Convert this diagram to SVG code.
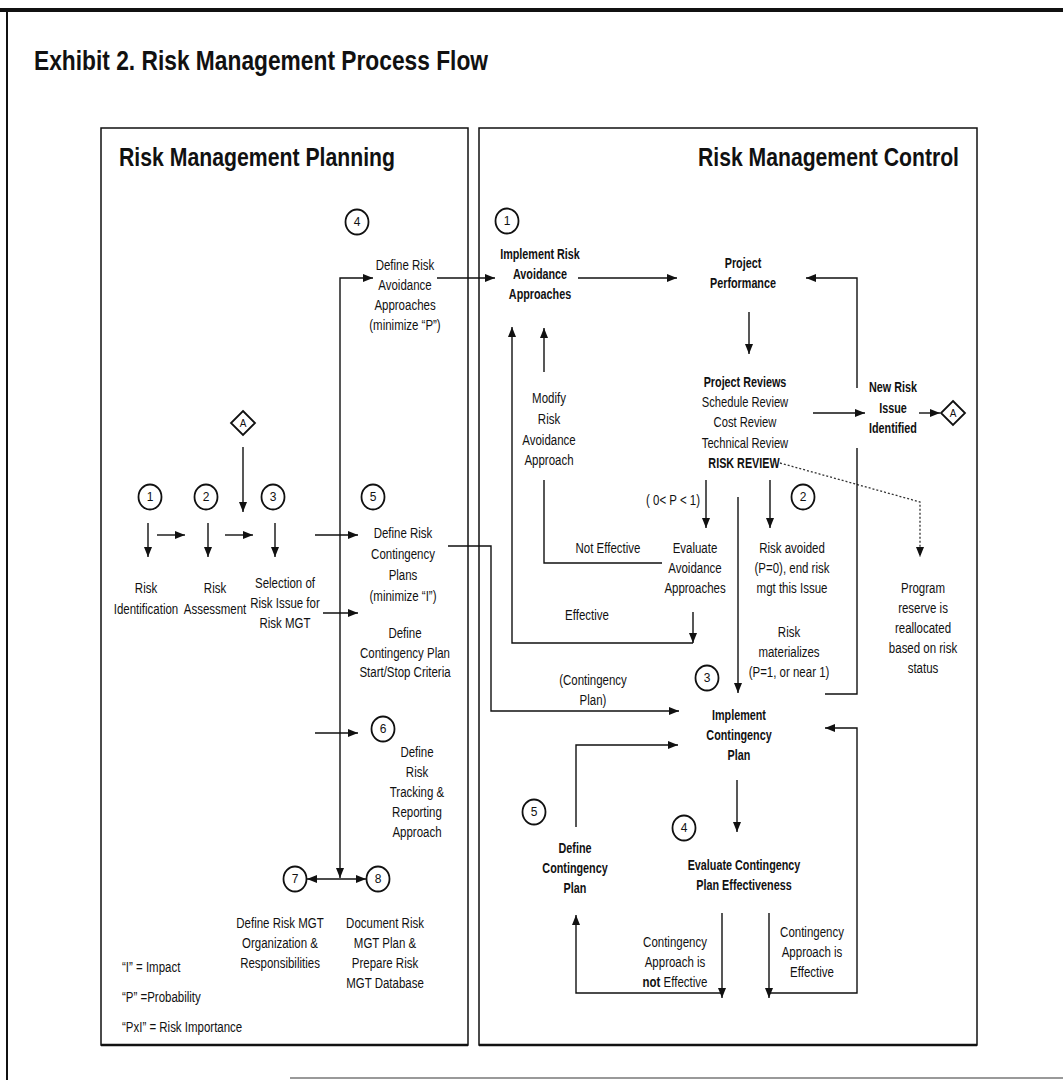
<svg xmlns="http://www.w3.org/2000/svg" width="1063" height="1080" viewBox="0 0 1063 1080">
<style>
text{font-family:"Liberation Sans",Arial,sans-serif;font-size:14px;fill:#111;text-anchor:middle}
.b{font-weight:bold}
.bb{font-weight:bold;font-size:15px}
.st{text-anchor:start}
.num{font-size:12px}
.ln{fill:none;stroke:#111;stroke-width:1.4}
.arr{marker-end:url(#ah)}
.frm{fill:none;stroke:#111;stroke-width:1.5}
.c{fill:#fff;stroke:#111;stroke-width:1.8}
.dot{fill:none;stroke:#333;stroke-width:1.3;stroke-dasharray:2 2}
</style>
<defs>
<marker id="ah" viewBox="0 0 10 8" refX="10" refY="4" markerWidth="10" markerHeight="8" markerUnits="userSpaceOnUse" orient="auto-start-reverse"><path d="M0,0 L10,4 L0,8 z" fill="#111"/></marker>
</defs>
<rect width="1063" height="1080" fill="#fff"/>
<g id="frame">
<line x1="0" y1="10" x2="1063" y2="10" stroke="#111" stroke-width="4"/>
<line x1="7" y1="10" x2="7" y2="1080" stroke="#111" stroke-width="2"/>
<line x1="290" y1="1078" x2="1063" y2="1078" stroke="#999" stroke-width="2"/>
<text class="b st" x="34" y="70" style="font-size:28px" textLength="454" lengthAdjust="spacingAndGlyphs">Exhibit 2.  Risk Management Process Flow</text>
</g>
<g id="panel-planning">
<rect class="frm" x="101" y="128" width="367" height="917"/>
<line x1="101" y1="1045" x2="468" y2="1045" stroke="#111" stroke-width="2.5"/>
<text class="b st" x="119" y="166" style="font-size:25px" textLength="276" lengthAdjust="spacingAndGlyphs">Risk Management Planning</text>
</g>
<g id="panel-control">
<rect class="frm" x="479" y="128" width="498" height="917"/>
<line x1="479" y1="1045" x2="977" y2="1045" stroke="#111" stroke-width="2.5"/>
<text class="b st" x="698" y="166" style="font-size:25px" textLength="261" lengthAdjust="spacingAndGlyphs">Risk Management Control</text>
</g>
<g id="connectors">
<line class="ln arr" x1="148" y1="523" x2="148" y2="557"/>
<line class="ln arr" x1="208" y1="523" x2="208" y2="557"/>
<line class="ln arr" x1="275" y1="523" x2="275" y2="557"/>
<line class="ln arr" x1="157" y1="535" x2="185" y2="535"/>
<line class="ln arr" x1="225" y1="535" x2="253" y2="535"/>
<line class="ln arr" x1="315" y1="535" x2="358" y2="535"/>
<line class="ln arr" x1="323" y1="613" x2="358" y2="613"/>
<line class="ln arr" x1="315" y1="733" x2="358" y2="733"/>
<line class="ln arr" x1="243" y1="447" x2="243" y2="512"/>
<path class="ln" d="M373,278 L340,278 L340,878" style="marker-start:url(#ah);marker-end:url(#ah)"/>
<line class="ln" x1="307" y1="879" x2="366" y2="879" style="marker-start:url(#ah);marker-end:url(#ah)"/>
<line class="ln arr" x1="437" y1="278" x2="495" y2="278"/>
<path class="ln arr" d="M448,546 L491,546 L491,711 L679,711"/>
<line class="ln arr" x1="578" y1="278" x2="677" y2="278"/>
<line class="ln arr" x1="749" y1="312" x2="749" y2="354"/>
<path class="ln arr" d="M857,388 L857,278 L806,278"/>
<line class="ln arr" x1="813" y1="413" x2="865" y2="413"/>
<line class="ln arr" x1="919" y1="413" x2="940" y2="413"/>
<path class="dot arr" d="M780,463 L920,502 L920,557"/>
<line class="ln arr" x1="706" y1="480" x2="706" y2="528"/>
<line class="ln arr" x1="770" y1="480" x2="770" y2="528"/>
<path class="ln" d="M662,563 L544,563 L544,480"/>
<line class="ln arr" x1="544" y1="372" x2="544" y2="328"/>
<line class="ln arr" x1="693" y1="612" x2="693" y2="643"/>
<path class="ln arr" d="M693,643 L512,643 L512,327"/>
<line class="ln arr" x1="738" y1="497" x2="738" y2="693"/>
<path class="ln" d="M825,694 L857,694 L857,448"/>
<path class="ln arr" d="M769,993 L857,993 L857,728 L825,728"/>
<line class="ln arr" x1="769" y1="913" x2="769" y2="998"/>
<line class="ln arr" x1="737" y1="780" x2="737" y2="832"/>
<path class="ln arr" d="M576,827 L576,745 L678,745"/>
<line class="ln arr" x1="722" y1="913" x2="722" y2="998"/>
<path class="ln arr" d="M722,993 L576,993 L576,915"/>
</g>
<g id="connector-labels">
<g transform="translate(673,505) scale(0.82,1)"><text>( 0&lt; P &lt; 1)</text></g>
<g transform="translate(608,553) scale(0.82,1)"><text>Not Effective</text></g>
<g transform="translate(587,620) scale(0.82,1)"><text>Effective</text></g>
<g transform="translate(789,637) scale(0.82,1)"><text><tspan x="0" y="0">Risk</tspan><tspan x="0" y="20">materializes</tspan><tspan x="0" y="40">(P=1, or near 1)</tspan></text></g>
<g transform="translate(593,685) scale(0.82,1)"><text><tspan x="0" y="0">(Contingency</tspan><tspan x="0" y="20">Plan)</tspan></text></g>
<g transform="translate(675,947) scale(0.82,1)"><text><tspan x="0" y="0">Contingency</tspan><tspan x="0" y="20">Approach is</tspan><tspan x="0" y="40"><tspan class="b">not</tspan> Effective</tspan></text></g>
<g transform="translate(812,937) scale(0.82,1)"><text><tspan x="0" y="0">Contingency</tspan><tspan x="0" y="20">Approach is</tspan><tspan x="0" y="40">Effective</tspan></text></g>
</g>
<g id="step-p1">
<ellipse class="c" cx="150" cy="497" rx="11.5" ry="12.5"/><text class="num" x="150" y="501">1</text>
<g transform="translate(146,593) scale(0.82,1)"><text><tspan x="0" y="0">Risk</tspan><tspan x="0" y="21">Identification</tspan></text></g>
</g>
<g id="step-p2">
<ellipse class="c" cx="206" cy="497" rx="11.5" ry="12.5"/><text class="num" x="206" y="501">2</text>
<g transform="translate(215,593) scale(0.82,1)"><text><tspan x="0" y="0">Risk</tspan><tspan x="0" y="21">Assessment</tspan></text></g>
</g>
<g id="step-p3">
<ellipse class="c" cx="273" cy="497" rx="11.5" ry="12.5"/><text class="num" x="273" y="501">3</text>
<g transform="translate(285,588) scale(0.82,1)"><text><tspan x="0" y="0">Selection of</tspan><tspan x="0" y="20">Risk Issue for</tspan><tspan x="0" y="40">Risk MGT</tspan></text></g>
</g>
<g id="step-p4">
<ellipse class="c" cx="357" cy="222" rx="11.5" ry="12.5"/><text class="num" x="357" y="226">4</text>
<g transform="translate(405,270) scale(0.82,1)"><text><tspan x="0" y="0">Define Risk</tspan><tspan x="0" y="20">Avoidance</tspan><tspan x="0" y="40">Approaches</tspan><tspan x="0" y="60">(minimize “P”)</tspan></text></g>
</g>
<g id="step-p5">
<ellipse class="c" cx="373" cy="497" rx="11.5" ry="12.5"/><text class="num" x="373" y="501">5</text>
<g transform="translate(403,538) scale(0.82,1)"><text><tspan x="0" y="0">Define Risk</tspan><tspan x="0" y="21">Contingency</tspan><tspan x="0" y="42">Plans</tspan><tspan x="0" y="63">(minimize “I”)</tspan></text></g>
<g transform="translate(405,638) scale(0.82,1)"><text><tspan x="0" y="0">Define</tspan><tspan x="0" y="20">Contingency Plan</tspan><tspan x="0" y="39">Start/Stop Criteria</tspan></text></g>
</g>
<g id="step-p6">
<ellipse class="c" cx="383" cy="729" rx="11.5" ry="12.5"/><text class="num" x="383" y="733">6</text>
<g transform="translate(417,757) scale(0.82,1)"><text><tspan x="0" y="0">Define</tspan><tspan x="0" y="20">Risk</tspan><tspan x="0" y="40">Tracking &amp;</tspan><tspan x="0" y="60">Reporting</tspan><tspan x="0" y="80">Approach</tspan></text></g>
</g>
<g id="step-p7">
<ellipse class="c" cx="295" cy="879" rx="11.5" ry="12.5"/><text class="num" x="295" y="883">7</text>
<g transform="translate(280,928) scale(0.82,1)"><text><tspan x="0" y="0">Define Risk MGT</tspan><tspan x="0" y="20">Organization &amp;</tspan><tspan x="0" y="40">Responsibilities</tspan></text></g>
</g>
<g id="step-p8">
<ellipse class="c" cx="378" cy="879" rx="11.5" ry="12.5"/><text class="num" x="378" y="883">8</text>
<g transform="translate(385,928) scale(0.82,1)"><text><tspan x="0" y="0">Document Risk</tspan><tspan x="0" y="20">MGT Plan &amp;</tspan><tspan x="0" y="40">Prepare Risk</tspan><tspan x="0" y="60">MGT Database</tspan></text></g>
</g>
<g id="connector-a-in">
<path class="c" d="M243,411 L255,423 L243,435 L231,423 Z"/><text x="243" y="427" style="font-size:10px">A</text>
</g>
<g id="legend">
<g transform="translate(122,972) scale(0.82,1)"><text class="st"><tspan x="0" y="0">“I” = Impact</tspan><tspan x="0" y="30">“P” =Probability</tspan><tspan x="0" y="60">“PxI” = Risk Importance</tspan></text></g>
</g>
<g id="step-c1">
<ellipse class="c" cx="507" cy="221" rx="11.5" ry="12.5"/><text class="num" x="507" y="225">1</text>
<g transform="translate(540,259) scale(0.72,1)"><text class="bb"><tspan x="0" y="0">Implement Risk</tspan><tspan x="0" y="20">Avoidance</tspan><tspan x="0" y="40">Approaches</tspan></text></g>
</g>
<g id="project-performance">
<g transform="translate(743,268) scale(0.72,1)"><text class="bb"><tspan x="0" y="0">Project</tspan><tspan x="0" y="20">Performance</tspan></text></g>
</g>
<g id="project-reviews">
<g transform="translate(745,387) scale(0.72,1)"><text class="bb">Project Reviews</text></g>
<g transform="translate(745,407) scale(0.8,1)"><text><tspan x="0" y="0">Schedule Review</tspan><tspan x="0" y="20">Cost Review</tspan><tspan x="0" y="41">Technical Review</tspan></text></g>
<g transform="translate(744,468) scale(0.72,1)"><text class="bb">RISK REVIEW</text></g>
</g>
<g id="new-risk">
<g transform="translate(893,392) scale(0.72,1)"><text class="bb"><tspan x="0" y="0">New Risk</tspan><tspan x="0" y="21">Issue</tspan><tspan x="0" y="41">Identified</tspan></text></g>
</g>
<g id="connector-a-out">
<path class="c" d="M953,401 L965,413 L953,425 L941,413 Z"/><text x="953" y="417" style="font-size:10px">A</text>
</g>
<g id="modify-avoidance">
<g transform="translate(549,403) scale(0.82,1)"><text><tspan x="0" y="0">Modify</tspan><tspan x="0" y="21">Risk</tspan><tspan x="0" y="42">Avoidance</tspan><tspan x="0" y="62">Approach</tspan></text></g>
</g>
<g id="evaluate-avoidance">
<g transform="translate(695,553) scale(0.82,1)"><text><tspan x="0" y="0">Evaluate</tspan><tspan x="0" y="20">Avoidance</tspan><tspan x="0" y="40">Approaches</tspan></text></g>
</g>
<g id="step-c2">
<ellipse class="c" cx="803" cy="497" rx="11.5" ry="12.5"/><text class="num" x="803" y="501">2</text>
<g transform="translate(792,553) scale(0.82,1)"><text><tspan x="0" y="0">Risk avoided</tspan><tspan x="0" y="20">(P=0), end risk</tspan><tspan x="0" y="40">mgt this Issue</tspan></text></g>
</g>
<g id="program-reserve">
<g transform="translate(923,593) scale(0.82,1)"><text><tspan x="0" y="0">Program</tspan><tspan x="0" y="20">reserve is</tspan><tspan x="0" y="40">reallocated</tspan><tspan x="0" y="60">based on risk</tspan><tspan x="0" y="80">status</tspan></text></g>
</g>
<g id="step-c3">
<ellipse class="c" cx="707" cy="678" rx="11.5" ry="12.5"/><text class="num" x="707" y="682">3</text>
<g transform="translate(739,720) scale(0.72,1)"><text class="bb"><tspan x="0" y="0">Implement</tspan><tspan x="0" y="20">Contingency</tspan><tspan x="0" y="40">Plan</tspan></text></g>
</g>
<g id="step-c4">
<ellipse class="c" cx="684" cy="828" rx="11.5" ry="12.5"/><text class="num" x="684" y="832">4</text>
<g transform="translate(744,870) scale(0.72,1)"><text class="bb"><tspan x="0" y="0">Evaluate Contingency</tspan><tspan x="0" y="20">Plan Effectiveness</tspan></text></g>
</g>
<g id="step-c5">
<ellipse class="c" cx="534" cy="812" rx="11.5" ry="12.5"/><text class="num" x="534" y="816">5</text>
<g transform="translate(575,853) scale(0.72,1)"><text class="bb"><tspan x="0" y="0">Define</tspan><tspan x="0" y="20">Contingency</tspan><tspan x="0" y="40">Plan</tspan></text></g>
</g>
</svg>
